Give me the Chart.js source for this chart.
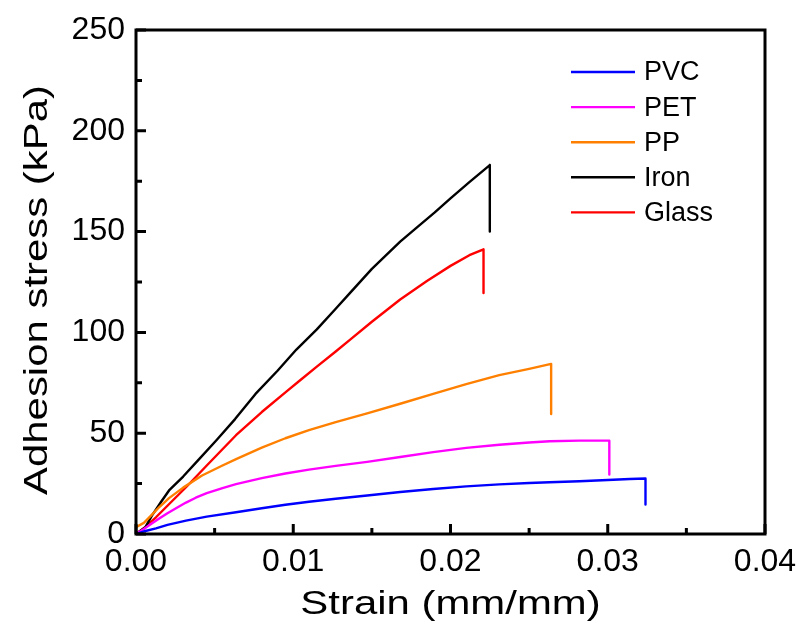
<!DOCTYPE html>
<html>
<head>
<meta charset="utf-8">
<script src="https://cdn.jsdelivr.net/npm/chart.js@4/dist/chart.umd.min.js"></script>
<style>
html,body{margin:0;padding:0;background:#fff;}
canvas{display:block;}
</style>
</head>
<body>
<canvas id="c" width="799" height="628"></canvas>
<script>
// ---- Data ----
const seriesNames = ["PVC", "PET", "PP", "Iron", "Glass"];
const seriesColors = ["#0000FF", "#FF00FF", "#FF8000", "#000000", "#FF0000"];

const pvcStrain = [0, 0.0006, 0.00127, 0.002, 0.00318, 0.0045, 0.00636, 0.008, 0.0095, 0.011, 0.0127, 0.0147, 0.0168, 0.0189, 0.021, 0.0231, 0.025, 0.0263, 0.0282, 0.03, 0.0314, 0.0324, 0.0324];
const pvcStress = [0, 1.5, 2.8, 4.5, 6.6, 8.6, 10.8, 12.8, 14.5, 16, 17.5, 19.1, 20.8, 22.3, 23.6, 24.6, 25.3, 25.7, 26.2, 26.8, 27.3, 27.5, 14.6];

const petStrain = [0, 0.0005, 0.001, 0.0015, 0.002, 0.0026, 0.00318, 0.0038, 0.0045, 0.0055, 0.00636, 0.008, 0.0095, 0.011, 0.0127, 0.0147, 0.0168, 0.0189, 0.021, 0.0231, 0.025, 0.0263, 0.0282, 0.0301, 0.0301];
const petStress = [0, 2.5, 5.2, 7.8, 10.3, 13, 15.6, 18, 20.3, 22.8, 24.7, 27.7, 30, 31.9, 33.8, 35.8, 38.2, 40.6, 42.7, 44.3, 45.4, 46, 46.3, 46.3, 29.5];

const ppStrain = [0, 0.0005, 0.001, 0.0015, 0.0021, 0.003, 0.0042, 0.0055, 0.0064, 0.008, 0.0095, 0.011, 0.0127, 0.0147, 0.0168, 0.0189, 0.021, 0.0231, 0.025, 0.0264, 0.0264];
const ppStress = [3.4, 5.5, 9.5, 13.5, 17.8, 23, 29, 34, 37.3, 42.8, 47.5, 51.5, 55.5, 59.8, 64.6, 69.5, 74.3, 78.8, 81.9, 84.4, 59.5];

const ironStrain = [0, 0.0006, 0.001, 0.0016, 0.0021, 0.003, 0.004, 0.0051, 0.0063, 0.0076, 0.009, 0.0102, 0.0115, 0.0127, 0.0136, 0.015, 0.0168, 0.018, 0.019, 0.02, 0.0212, 0.0225, 0.0225];
const ironStress = [0, 3.4, 9, 16, 21.6, 28.5, 37, 46.4, 57, 69.5, 81, 91.5, 101.5, 111.7, 119.5, 131.5, 145, 153, 159.5, 166.5, 174.5, 183, 150];

const glassStrain = [0, 0.0006, 0.00127, 0.002, 0.00318, 0.0045, 0.00636, 0.008, 0.00954, 0.0104, 0.0115, 0.0127, 0.0136, 0.015, 0.0168, 0.0185, 0.02, 0.0212, 0.0221, 0.0221];
const glassStress = [0, 3.5, 8.3, 14, 23.2, 34, 49, 60.5, 70.5, 76, 83, 90.5, 96.3, 105.3, 116.3, 125.5, 133, 138.3, 141.2, 119.5];

const xTicksMajor = [0, 0.01, 0.02, 0.03, 0.04];
const xTicksMinor = [0.005, 0.015, 0.025, 0.035];
const yTicksMajor = [0, 50, 100, 150, 200, 250];
const yTicksMinor = [25, 75, 125, 175, 225];
const xTitle = "Strain (mm/mm)";
const yTitle = "Adhesion stress (kPa)";

// ---- Build datasets ----
function pts(xs, ys) { return xs.map((v, i) => ({ x: v, y: ys[i] })); }
const allX = [pvcStrain, petStrain, ppStrain, ironStrain, glassStrain];
const allY = [pvcStress, petStress, ppStress, ironStress, glassStress];
const datasets = seriesNames.map((n, i) => ({
  label: n,
  data: pts(allX[i], allY[i]),
  borderColor: seriesColors[i],
  backgroundColor: seriesColors[i],
  borderWidth: 2.4,
  pointRadius: 0,
  tension: 0,
  borderJoinStyle: 'round',
  fill: false
}));

const FONT = '"Liberation Sans", Arial, Helvetica, sans-serif';

const framePlugin = {
  id: 'frame',
  afterDraw(chart) {
    const { ctx, chartArea: { left, right, top, bottom }, scales: { x, y } } = chart;
    ctx.save();
    ctx.strokeStyle = '#000';
    ctx.lineWidth = 3;
    ctx.strokeRect(left, top, right - left, bottom - top);
    ctx.lineWidth = 3;
    ctx.beginPath();
    xTicksMajor.forEach(v => { const p = x.getPixelForValue(v); ctx.moveTo(p, bottom); ctx.lineTo(p, bottom - 10); });
    xTicksMinor.forEach(v => { const p = x.getPixelForValue(v); ctx.moveTo(p, bottom); ctx.lineTo(p, bottom - 6); });
    yTicksMajor.forEach(v => { const p = y.getPixelForValue(v); ctx.moveTo(left, p); ctx.lineTo(left + 10, p); });
    yTicksMinor.forEach(v => { const p = y.getPixelForValue(v); ctx.moveTo(left, p); ctx.lineTo(left + 6, p); });
    ctx.stroke();

    // axis titles
    ctx.fillStyle = '#000';
    ctx.font = '33px ' + FONT;
    ctx.textAlign = 'center';
    ctx.textBaseline = 'alphabetic';
    ctx.save();
    ctx.translate((left + right) / 2, 614);
    ctx.scale(1.27, 1);
    ctx.fillText(xTitle, 0, 0);
    ctx.restore();
    ctx.save();
    ctx.translate(47, 290);
    ctx.rotate(-Math.PI / 2);
    ctx.scale(1.27, 1);
    ctx.fillText(yTitle, 0, 0);
    ctx.restore();

    // legend
    ctx.font = '27px ' + FONT;
    ctx.textAlign = 'left';
    ctx.textBaseline = 'middle';
    chart.data.datasets.forEach((ds, i) => {
      const yy = top + 42 + i * 35.1;
      ctx.strokeStyle = ds.borderColor;
      ctx.lineWidth = 2.4;
      ctx.beginPath();
      ctx.moveTo(right - 194, yy);
      ctx.lineTo(right - 130, yy);
      ctx.stroke();
      ctx.fillStyle = '#000';
      ctx.fillText(ds.label, right - 121, yy + 1);
    });
    ctx.restore();
  }
};

new Chart(document.getElementById('c'), {
  type: 'line',
  data: { datasets },
  plugins: [framePlugin],
  options: {
    responsive: false,
    devicePixelRatio: 1,
    animation: false,
    layout: { padding: { top: 30, right: 34, left: 0, bottom: 0 } },
    plugins: { legend: { display: false }, tooltip: { enabled: false } },
    scales: {
      x: {
        type: 'linear', min: 0, max: 0.04,
        afterFit(s) { s.height = 94; s.paddingLeft = 0; s.paddingRight = 0; },
        afterBuildTicks(s) { s.ticks = xTicksMajor.map(v => ({ value: v })); },
        ticks: { callback: v => v.toFixed(2), font: { family: FONT, size: 32 }, color: '#000', padding: 9, maxRotation: 0, autoSkip: false },
        grid: { display: false, drawTicks: false },
        border: { display: false }
      },
      y: {
        type: 'linear', min: 0, max: 250,
        afterFit(s) { s.width = 136; s.paddingTop = 0; s.paddingBottom = 0; },
        afterBuildTicks(s) { s.ticks = yTicksMajor.map(v => ({ value: v })); },
        ticks: { font: { family: FONT, size: 32 }, color: '#000', padding: 11, autoSkip: false },
        grid: { display: false, drawTicks: false },
        border: { display: false }
      }
    }
  }
});
</script>
</body>
</html>
